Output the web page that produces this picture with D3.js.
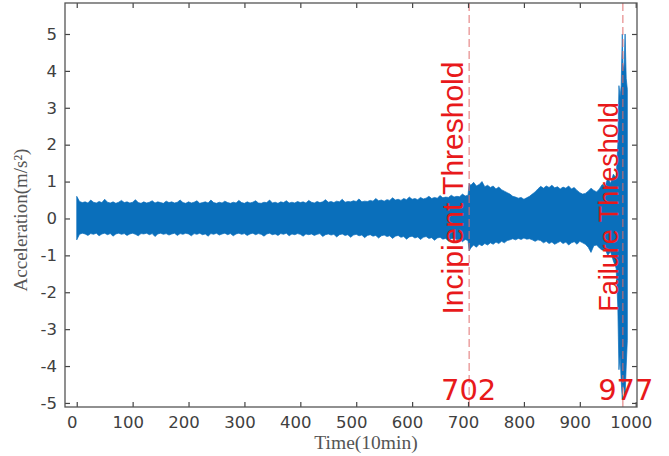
<!DOCTYPE HTML>
<html lang="en">
<head>
    <meta http-equiv="Content-Type" content="text/html; charset=utf-8">
    <title>Acceleration vs time</title>
    <script src="https://cdn.jsdelivr.net/npm/d3@7/dist/d3.min.js"></script>
    <style type="text/css">
        html,body{margin:0;padding:0;background:#fff}
        svg{display:block}
    </style>
</head>
<body>
<div id="svgWrap"></div>
<script type="text/javascript">
// envelope of the vibration signal (upper / lower edge)
var times=[0,5,10,15,20,25,30,35,40,45,50,55,60,65,70,75,80,85,90,95,
    100,105,110,115,120,125,130,135,140,145,150,155,160,165,170,175,180,185,190,195,
    200,205,210,215,220,225,230,235,240,245,250,255,260,265,270,275,280,285,290,295,
    300,305,310,315,320,325,330,335,340,345,350,355,360,365,370,375,380,385,390,395,
    400,405,410,415,420,425,430,435,440,445,450,455,460,465,470,475,480,485,490,495,
    500,505,510,515,520,525,530,535,540,545,550,555,560,565,570,575,580,585,590,595,
    600,605,610,615,620,625,630,635,640,645,650,655,660,665,670,675,680,685,690,695,700,
    702,705,710,715,720,725,730,735,740,745,750,755,760,765,770,775,780,785,790,795,
    800,805,810,815,820,825,830,835,840,845,850,855,860,865,870,875,880,885,890,895,
    900,905,910,915,920,925,930,935,940,945,950,955,960,
    965,968,970,972,974,976,977,979,981,983,985];
var upper=[0.60,0.46,0.43,0.45,0.42,0.50,0.44,0.42,0.46,0.43,0.52,0.44,0.42,0.45,0.41,0.44,0.49,0.43,0.45,0.42,
    0.44,0.51,0.43,0.41,0.45,0.42,0.44,0.48,0.42,0.45,0.43,0.41,0.47,0.43,0.45,0.42,0.44,0.50,0.43,0.41,
    0.45,0.42,0.44,0.48,0.41,0.43,0.45,0.42,0.50,0.43,0.41,0.44,0.42,0.47,0.43,0.41,0.44,0.42,0.49,0.43,
    0.41,0.45,0.42,0.44,0.48,0.42,0.41,0.44,0.43,0.50,0.42,0.44,0.41,0.45,0.43,0.48,0.42,0.44,0.42,0.46,
    0.43,0.45,0.42,0.49,0.44,0.42,0.46,0.43,0.45,0.51,0.44,0.46,0.43,0.47,0.45,0.52,0.44,0.46,0.45,0.48,
    0.46,0.53,0.45,0.47,0.46,0.49,0.47,0.54,0.48,0.50,0.47,0.51,0.49,0.56,0.50,0.52,0.49,0.54,0.51,0.58,
    0.52,0.54,0.51,0.57,0.53,0.55,0.60,0.54,0.57,0.55,0.62,0.56,0.58,0.57,0.63,0.58,0.60,0.59,0.66,0.61,0.63,
    0.95,0.90,0.98,0.88,0.92,1.00,0.86,0.90,0.84,0.88,0.80,0.85,0.78,0.74,0.70,0.66,0.60,0.58,0.55,0.57,
    0.52,0.56,0.60,0.66,0.72,0.80,0.87,0.82,0.88,0.84,0.90,0.83,0.86,0.80,0.85,0.82,0.88,0.80,0.84,0.76,
    0.70,0.66,0.68,0.74,0.82,0.76,0.72,0.80,0.92,0.86,1.10,0.95,1.20,
    1.10,2.00,3.60,3.30,3.60,5.00,4.20,4.00,5.00,3.80,3.50];
var lower=[-0.58,-0.43,-0.40,-0.42,-0.46,-0.41,-0.43,-0.40,-0.47,-0.42,-0.40,-0.44,-0.41,-0.48,-0.42,-0.40,-0.43,-0.41,-0.46,-0.42,
    -0.40,-0.43,-0.47,-0.41,-0.42,-0.40,-0.44,-0.41,-0.49,-0.42,-0.40,-0.43,-0.41,-0.45,-0.42,-0.40,-0.46,-0.41,-0.43,-0.40,
    -0.42,-0.47,-0.41,-0.43,-0.40,-0.44,-0.42,-0.48,-0.41,-0.43,-0.40,-0.45,-0.42,-0.40,-0.44,-0.41,-0.47,-0.42,-0.40,-0.43,
    -0.41,-0.46,-0.42,-0.40,-0.44,-0.41,-0.43,-0.48,-0.42,-0.40,-0.44,-0.42,-0.46,-0.41,-0.43,-0.40,-0.47,-0.42,-0.44,-0.41,
    -0.43,-0.48,-0.42,-0.44,-0.42,-0.46,-0.43,-0.41,-0.49,-0.44,-0.42,-0.45,-0.43,-0.50,-0.44,-0.42,-0.46,-0.44,-0.51,-0.45,
    -0.43,-0.47,-0.45,-0.52,-0.46,-0.44,-0.48,-0.46,-0.53,-0.47,-0.45,-0.49,-0.47,-0.54,-0.48,-0.46,-0.51,-0.49,-0.56,-0.50,
    -0.48,-0.53,-0.50,-0.57,-0.51,-0.49,-0.54,-0.52,-0.59,-0.53,-0.51,-0.56,-0.54,-0.61,-0.55,-0.53,-0.58,-0.56,-0.63,-0.57,-0.60,
    -0.88,-0.80,-0.72,-0.78,-0.70,-0.74,-0.68,-0.72,-0.66,-0.70,-0.64,-0.68,-0.62,-0.66,-0.60,-0.58,-0.55,-0.58,-0.54,-0.57,
    -0.53,-0.56,-0.55,-0.58,-0.62,-0.58,-0.60,-0.66,-0.62,-0.68,-0.64,-0.70,-0.66,-0.62,-0.68,-0.64,-0.72,-0.66,-0.63,-0.70,
    -0.62,-0.66,-0.70,-0.78,-0.92,-0.74,-0.72,-0.80,-0.86,-0.82,-1.00,-0.90,-1.15,
    -1.35,-2.40,-4.10,-3.70,-4.40,-4.90,-4.50,-4.60,-4.80,-4.00,-3.30];
var xTicks=[0,100,200,300,400,500,600,700,800,900,1000];
var yTicks=[-5,-4,-3,-2,-1,0,1,2,3,4,5];
var thresholds=[702,977];
var thresholdNames=["Incipient Threshold","Failure Threshold"];

var W=669, H=456;
var box={left:65,top:3,right:637,bottom:407};
var xScale, yScale, svg;

function initialize() {
    xScale=d3.scaleLinear().domain([-21,1002.3]).range([box.left,box.right]);
    yScale=d3.scaleLinear().domain([-5.11,5.84]).range([box.bottom,box.top]);
    svg=d3.select("#svgWrap").append("svg")
        .attr("width",W)
        .attr("height",H);
    drawSignal();
    drawThresholds();
    drawAxes();
    addLabels();
}

function drawSignal() {
    var pts=times.map(function(t,i){return [t,upper[i],lower[i]]});
    var band=d3.area()
        .x(function(d){return xScale(d[0])})
        .y0(function(d){return yScale(d[2])})
        .y1(function(d){return yScale(d[1])});
    svg.append("path")
        .datum(pts)
        .attr("fill","#0a6fbb")
        .attr("stroke","#0a6fbb")
        .attr("stroke-width","0.7px")
        .attr("d",band);
}

function drawThresholds() {
    svg.selectAll(".thr").data(thresholds).enter().append("line")
        .attr("class","thr")
        .attr("x1",function(d){return xScale(d)})
        .attr("x2",function(d){return xScale(d)})
        .attr("y1",box.top)
        .attr("y2",box.bottom)
        .attr("stroke","#e06a6a")
        .attr("stroke-opacity",0.8)
        .attr("stroke-width","1.2px")
        .attr("stroke-dasharray","8,4");
}

function drawAxes() {
    var fmt=function(d){return ""+d};
    var gx=svg.append("g").attr("transform","translate(0,"+box.bottom+")")
        .call(d3.axisBottom(xScale).tickValues(xTicks).tickFormat(fmt).tickSizeInner(-5).tickSizeOuter(0).tickPadding(9));
    var gxt=svg.append("g").attr("transform","translate(0,"+box.top+")")
        .call(d3.axisTop(xScale).tickValues(xTicks).tickSizeInner(-5).tickSizeOuter(0).tickFormat(""));
    var gy=svg.append("g").attr("transform","translate("+box.left+",0)")
        .call(d3.axisLeft(yScale).tickValues(yTicks).tickFormat(fmt).tickSizeInner(-5).tickSizeOuter(0).tickPadding(8));
    var gyr=svg.append("g").attr("transform","translate("+box.right+",0)")
        .call(d3.axisRight(yScale).tickValues(yTicks).tickSizeInner(-5).tickSizeOuter(0).tickFormat(""));
    [gx,gxt,gy,gyr].forEach(function(g){
        g.select(".domain").remove();
        g.selectAll("line").attr("stroke","#444").attr("stroke-width","1.2px");
        g.selectAll("text")
            .attr("fill","#404040")
            .style("font-family","'DejaVu Sans',Verdana,sans-serif")
            .style("font-size","16.5px");
    });
    gx.selectAll("text").attr("dx","-5px");
    svg.append("rect")
        .attr("x",box.left)
        .attr("y",box.top)
        .attr("width",box.right-box.left)
        .attr("height",box.bottom-box.top)
        .attr("fill","none")
        .attr("stroke","#555")
        .attr("stroke-width","1.3px");
}

function addLabels() {
    svg.append("text")
        .attr("text-anchor","middle")
        .attr("transform","translate(27,220) rotate(-90)")
        .attr("fill","#555")
        .style("font-family","'Liberation Serif','Times New Roman',serif")
        .style("font-size","19px")
        .text("Acceleration(m/s²)");
    svg.append("text")
        .attr("text-anchor","middle")
        .attr("x",366)
        .attr("y",449)
        .attr("fill","#555")
        .style("font-family","'Liberation Serif','Times New Roman',serif")
        .style("font-size","19.5px")
        .text("Time(10min)");
    var nameY=[188,207], nameSize=[30,27], nameX=[463,618];
    thresholdNames.forEach(function(n,i){
        svg.append("text")
            .attr("text-anchor","middle")
            .attr("transform","translate("+nameX[i]+","+nameY[i]+") rotate(-90)")
            .attr("fill","#e8191b")
            .style("font-family","'Liberation Sans',Arial,sans-serif")
            .style("font-size",nameSize[i]+"px")
            .text(n);
    });
    svg.selectAll(".thrVal").data(thresholds).enter().append("text")
        .attr("class","thrVal")
        .attr("text-anchor","middle")
        .attr("x",function(d,i){return i==0?xScale(d)-0.5:xScale(d)+3})
        .attr("y",400)
        .attr("fill","#e8191b")
        .style("font-family","'DejaVu Sans',Verdana,sans-serif")
        .style("font-size","29px")
        .text(function(d){return d});
}

initialize();
</script>
</body>
</html>
